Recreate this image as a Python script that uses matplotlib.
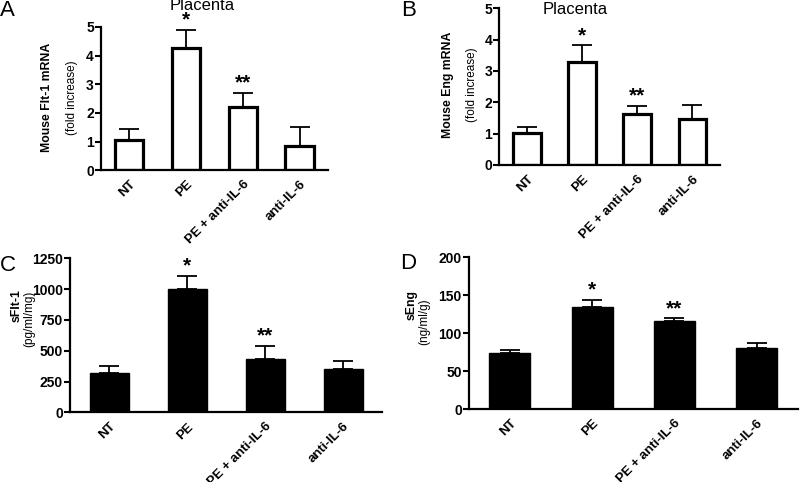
import numpy as np
import matplotlib
matplotlib.use("Agg")
import matplotlib.pyplot as plt

plt.rcParams['font.family'] = ['Liberation Sans', 'DejaVu Sans']

# --- Data ---
groups = ["NT", "PE", "PE + anti-IL-6", "anti-IL-6"]

flt_mrna = [1.06, 4.25, 2.2, 0.85]
flt_mrna_err = [0.37, 0.65, 0.5, 0.64]

eng_mrna = [1.01, 3.27, 1.61, 1.46]
eng_mrna_err = [0.2, 0.55, 0.28, 0.44]

sflt = [321, 1000, 432, 354]
sflt_err = [54, 108, 108, 62]

seng = [74.5, 134, 116, 81]
seng_err = [3.5, 10, 4, 6.6]

stars_ab = ["", "*", "**", ""]

fig = plt.figure(figsize=(8, 4.82), dpi=100)


def draw_panel(rect, vals, errs, ylim, yticks, filled, ylab_bold, ylab_unit,
               ylab_xy, unit_xy, letter, letter_xy, title_xy=None):
    ax = fig.add_axes(rect)
    x = np.arange(len(groups))
    if filled:
        ax.bar(x, vals, width=0.5, color='black', edgecolor='black', zorder=2)
    else:
        ax.bar(x, vals, width=0.5, color='white', edgecolor='black',
               linewidth=2.3, zorder=2)
    ax.errorbar(x, vals, yerr=[np.zeros(len(vals)), errs], fmt='none',
                ecolor='black', elinewidth=1.3, capsize=7, capthick=1.3, zorder=1)
    for xi, v, e, s in zip(x, vals, errs, stars_ab):
        if s:
            ax.text(xi, v + e, s, ha='center', va='bottom', fontsize=15,
                    fontweight='bold')
    ax.set_xlim(-0.5, 3.5)
    ax.set_ylim(*ylim)
    ax.set_yticks(yticks)
    ax.set_xticks(x)
    ax.set_xticklabels(groups, rotation=45, ha='right', rotation_mode='anchor',
                       fontsize=9.5, fontweight='bold')
    ax.tick_params(axis='x', length=0, pad=6)
    ax.tick_params(axis='y', direction='out', length=4, width=1.5, pad=1,
                   labelsize=10)
    for lab in ax.get_yticklabels():
        lab.set_fontweight('bold')
    for side in ['top', 'right']:
        ax.spines[side].set_visible(False)
    for side in ['left', 'bottom']:
        ax.spines[side].set_linewidth(1.6)
    # y labels: bold line and normal unit line
    fig.text(ylab_xy[0] / 800, 1 - ylab_xy[1] / 482, ylab_bold, rotation=90,
             ha='center', va='center', fontsize=8.8, fontweight='bold')
    fig.text(unit_xy[0] / 800, 1 - unit_xy[1] / 482, ylab_unit, rotation=90,
             ha='center', va='center', fontsize=8.5)
    fig.text(letter_xy[0], letter_xy[1], letter, fontsize=16, ha='left', va='top')
    if title_xy is not None:
        fig.text(title_xy[0], title_xy[1], "Placenta", fontsize=12,
                 ha='center', va='top')
    return ax


# A
draw_panel([0.126, 0.647, 0.284, 0.297], flt_mrna, flt_mrna_err, (0, 5),
           range(0, 6), False, "Mouse Flt-1 mRNA", "(fold increase)",
           (47, 97), (72, 98), "A", (0.0, 1.0), (202 / 800, 1.005))
# B
draw_panel([0.624, 0.658, 0.276, 0.325], eng_mrna, eng_mrna_err, (0, 5),
           range(0, 6), False, "Mouse Eng mRNA", "(fold increase)",
           (448, 85), (472, 85), "B", (0.502, 1.0), (575 / 800, 0.995))
# C
draw_panel([0.0875, 0.1446, 0.390, 0.3195], sflt, sflt_err, (0, 1250),
           [0, 250, 500, 750, 1000, 1250], True, "sFlt-1", "(pg/ml/mg)",
           (17, 306), (29, 319), "C", (0.0, 1 - 255 / 482))
# D
draw_panel([0.586, 0.151, 0.411, 0.3154], seng, seng_err, (0, 200),
           [0, 50, 100, 150, 200], True, "sEng", "(ng/ml/g)",
           (412, 305), (424, 322), "D", (0.5, 1 - 253 / 482))

fig.savefig("out.png", dpi=100)
